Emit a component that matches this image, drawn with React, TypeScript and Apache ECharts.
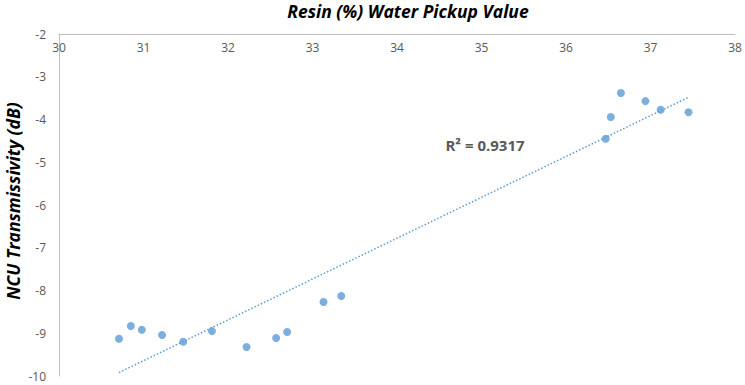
import React, { useEffect, useRef } from "react";
import * as echarts from "echarts";

const waterPickup = [30.71, 30.85, 30.98, 31.22, 31.47, 31.81, 32.22, 32.57, 32.7, 33.13, 33.34, 36.47, 36.53, 36.65, 36.94, 37.12, 37.45];
const transmissivity = [-9.13, -8.83, -8.92, -9.04, -9.2, -8.95, -9.32, -9.11, -8.97, -8.27, -8.13, -4.45, -3.94, -3.38, -3.57, -3.77, -3.83];
const trendX = [30.71, 37.45];
const trendY = [-9.92, -3.48];
const titleText = "Resin (%) Water Pickup Value";
const yName = "NCU Transmissivity (dB)";
const r2Text = "R² = 0.9317";

export default function App() {
  const ref = useRef<HTMLDivElement>(null);
  useEffect(() => {
    if (!ref.current) return;
    const chart = echarts.init(ref.current, null, { renderer: "svg" });
    const font = "'Open Sans', 'Liberation Sans', sans-serif";
    chart.setOption({
      animation: false,
      textStyle: { fontFamily: font },
      grid: { left: 59, right: 10, top: 34, bottom: 9, containLabel: false, outerBoundsMode: "none" },
      xAxis: {
        type: "value",
        position: "top",
        min: 30,
        max: 38,
        interval: 1,
        axisLine: { show: true, onZero: false, lineStyle: { color: "#bfbfbf", width: 1 } },
        axisTick: { show: false },
        splitLine: { show: false },
        axisLabel: { inside: true, margin: 7, color: "#595959", fontSize: 12, fontFamily: font },
      },
      yAxis: {
        type: "value",
        min: -10,
        max: -2,
        interval: 1,
        axisLine: { show: true, onZero: false, lineStyle: { color: "#bfbfbf", width: 1 } },
        axisTick: { show: false },
        splitLine: { show: false },
        axisLabel: { margin: 13, color: "#595959", fontSize: 12, fontFamily: font },
      },
      series: [
        {
          type: "line",
          data: trendX.map((x, i) => [x, trendY[i]]),
          symbol: "none",
          lineStyle: { color: "#5b9bd5", width: 1.5, type: [1.5, 2] },
          silent: true,
          z: 1,
        },
        {
          type: "scatter",
          data: waterPickup.map((x, i) => [x, transmissivity[i]]),
          symbolSize: 8,
          itemStyle: { color: "#5b9bd5" },
          z: 2,
        },
      ],
      graphic: [
        {
          type: "text",
          x: 408,
          y: 11,
          style: {
            text: titleText,
            textAlign: "center",
            textVerticalAlign: "middle",
            fontSize: 17.5,
            fontWeight: "bold",
            fontStyle: "italic",
            fill: "#000",
            fontFamily: font,
          },
        },
        {
          type: "text",
          x: 13,
          y: 201,
          rotation: Math.PI / 2,
          style: {
            text: yName,
            textAlign: "center",
            textVerticalAlign: "middle",
            fontSize: 17.5,
            fontWeight: "bold",
            fontStyle: "italic",
            fill: "#000",
            fontFamily: font,
          },
        },
        {
          type: "text",
          x: 485,
          y: 145,
          style: {
            text: r2Text,
            textAlign: "center",
            textVerticalAlign: "middle",
            fontSize: 15,
            fontWeight: "bold",
            fill: "#595959",
            fontFamily: font,
          },
        },
      ],
    });
    return () => chart.dispose();
  }, []);
  return <div ref={ref} style={{ width: 745, height: 385, position: "absolute", left: 0, top: 0 }} />;
}
